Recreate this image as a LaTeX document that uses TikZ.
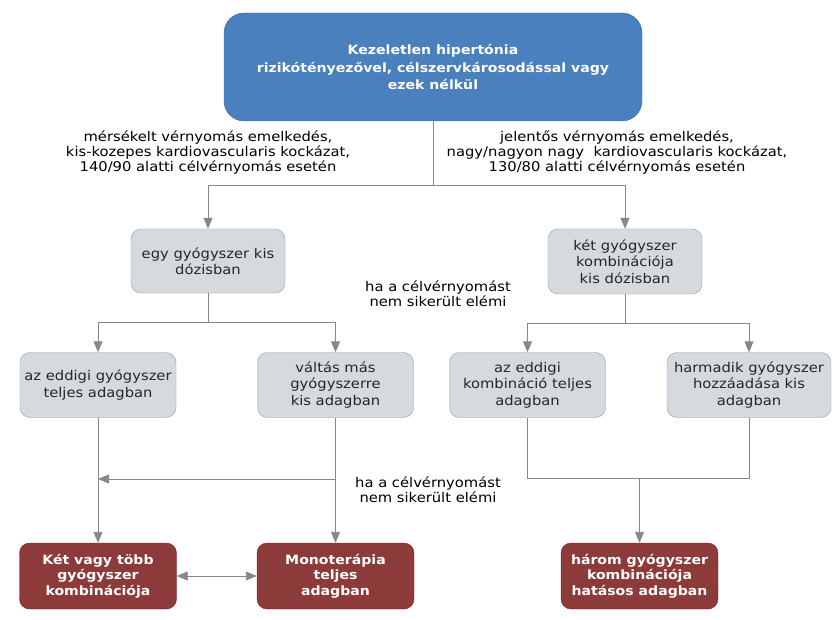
\documentclass[tikz,border=0pt]{standalone}
\usepackage{fontspec}
\setmainfont{DejaVu Sans}[FakeStretch=1.1]
\usetikzlibrary{arrows.meta,positioning,calc}
\definecolor{topblue}{RGB}{74,128,189}
\definecolor{topborder}{RGB}{60,108,162}
\definecolor{boxgray}{RGB}{213,218,223}
\definecolor{grayborder}{RGB}{150,155,160}
\definecolor{darkred}{RGB}{140,58,58}
\definecolor{redborder}{RGB}{110,40,40}
\definecolor{linegray}{RGB}{135,135,135}
\begin{document}
\begin{tikzpicture}[x=1pt,y=-1pt,
  every node/.style={font=\fontsize{13.4}{16.5}\selectfont, inner sep=2pt},
  topbox/.style={draw=topborder, fill=topblue, rounded corners=20pt, text=white,
    font=\fontsize{12.8}{17.5}\selectfont\bfseries, align=center,
    minimum width=418pt, minimum height=108pt},
  graybox/.style={draw=grayborder, fill=boxgray, rounded corners=10pt, text=black!85,
    align=center, minimum width=156pt, minimum height=65pt},
  redbox/.style={draw=redborder, fill=darkred, rounded corners=10pt, text=white,
    font=\fontsize{12.8}{15.5}\selectfont\bfseries, align=center,
    minimum width=157pt, minimum height=66pt},
  lbl/.style={align=center, font=\fontsize{13.4}{15}\selectfont},
  conn/.style={draw=linegray, line width=0.9pt},
  arr/.style={conn, -{Triangle[length=11pt,width=9pt]}},
  darr/.style={conn, {Triangle[length=11pt,width=9pt]}-{Triangle[length=11pt,width=9pt]}}
]
\useasboundingbox (0,0) rectangle (840,620);

\node[topbox] (top) at (433,67) {Kezeletlen hipertónia\\rizikótényezővel, célszervkárosodással vagy\\ezek nélkül};

\node[lbl] (lblL) at (208,153) {mérsékelt vérnyomás emelkedés,\\kis-kozepes kardiovascularis kockázat,\\140/90 alatti célvérnyomás esetén};
\node[lbl] (lblR) at (617,153) {jelentős vérnyomás emelkedés,\\nagy/nagyon nagy\ \ kardiovascularis kockázat,\\130/80 alatti célvérnyomás esetén};

\node[graybox, minimum width=154pt, minimum height=64pt] (egy) at (208,261) {egy gyógyszer kis\\dózisban};
\node[graybox, minimum width=154pt, minimum height=65pt] (ket) at (625,261.5) {két gyógyszer\\kombinációja\\kis dózisban};

\node[lbl] (ha1) at (438,294) {ha a célvérnyomást\\nem sikerült elémi};

\node[graybox] (b1) at (98,385) {az eddigi gyógyszer\\teljes adagban};
\node[graybox] (b2) at (335.5,385) {váltás más\\gyógyszerre\\kis adagban};
\node[graybox] (b3) at (527.5,385) {az eddigi\\kombináció teljes\\adagban};
\node[graybox, minimum width=164pt] (b4) at (749,385) {harmadik gyógyszer\\hozzáadása kis\\adagban};

\node[lbl] (ha2) at (428,490) {ha a célvérnyomást\\nem sikerült elémi};

\node[redbox] (r1) at (98,576) {Két vagy több\\gyógyszer\\kombinációja};
\node[redbox] (r2) at (335.5,576) {Monoterápia\\teljes\\adagban};
\node[redbox] (r3) at (639.5,576) {három gyógyszer\\kombinációja\\hatásos adagban};

% connectors
\coordinate (j1) at (top.south |- 0,185);
\draw[conn] (top.south) -- (j1);
\draw[arr] (j1) -| (egy.north);
\draw[arr] (j1) -| (ket.north);

\coordinate (j2) at (egy.south |- 0,322);
\draw[conn] (egy.south) -- (j2);
\draw[arr] (j2) -| (b1.north);
\draw[arr] (j2) -| (b2.north);

\coordinate (j3) at (ket.south |- 0,323);
\draw[conn] (ket.south) -- (j3);
\draw[arr] (j3) -| (b3.north);
\draw[arr] (j3) -| (b4.north);

\draw[arr] (b1.south) -- (r1.north);
\draw[arr] (b2.south) -- (r2.north);
\coordinate (h2) at (b2.south |- 0,479);
\coordinate (h1) at (b1.south |- 0,479);
\draw[arr] (h2) -- (h1);

\coordinate (k3) at (b3.south |- 0,478);
\coordinate (k4) at (b4.south |- 0,478);
\coordinate (k0) at (r3.north |- 0,478);
\draw[conn] (b3.south) -- (k3) -- (k4) -- (b4.south);
\draw[arr] (k0) -- (r3.north);

\draw[darr] (r1.east) -- (r2.west);
\end{tikzpicture}
\end{document}
